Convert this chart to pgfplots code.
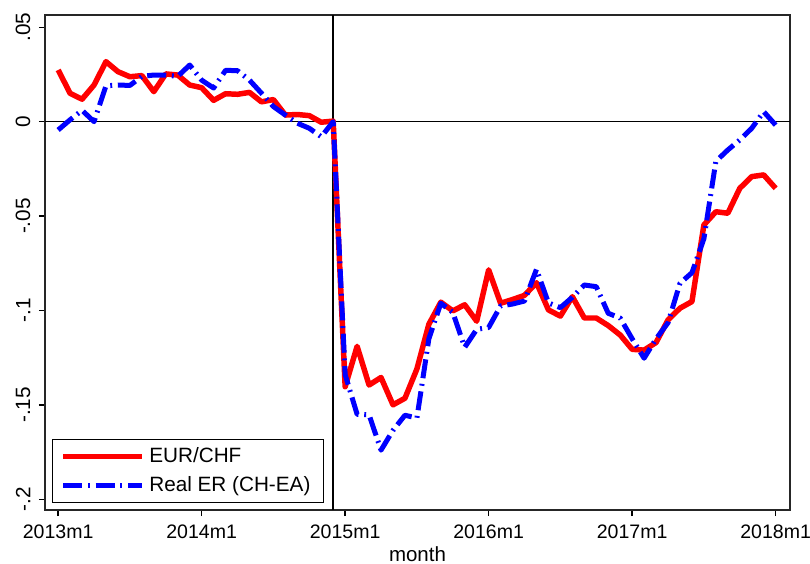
\documentclass[border=0pt]{standalone}
\usepackage{fontspec}
\setmainfont{Liberation Sans}
\usepackage{pgfplots}
\pgfplotsset{compat=1.18}

\definecolor{erred}{RGB}{255,0,0}
\definecolor{erblue}{RGB}{0,0,255}

\pgfplotstableread{
t   eur      real
0   0.0274  -0.0044
1   0.0150   0.0010
2   0.0119   0.0060
3   0.0194   0.0000
4   0.0318   0.0190
5   0.0265   0.0194
6   0.0238   0.0192
7   0.0244   0.0240
8   0.0159   0.0247
9   0.0253   0.0247
10  0.0247   0.0240
11  0.0194   0.0300
12  0.0180   0.0220
13  0.0113   0.0178
14  0.0148   0.0272
15  0.0145   0.0270
16  0.0155   0.0220
17  0.0105   0.0151
18  0.0117   0.0080
19  0.0035   0.0035
20  0.0038  -0.0008
21  0.0032  -0.0035
22 -0.0003  -0.0080
23  0.0003   0.0000
24 -0.1404  -0.1340
25 -0.1190  -0.1550
26 -0.1395  -0.1553
27 -0.1355  -0.1740
28 -0.1500  -0.1635
29 -0.1465  -0.1555
30 -0.1310  -0.1570
31 -0.1073  -0.1150
32 -0.0956  -0.0962
33 -0.1002  -0.1010
34 -0.0970  -0.1195
35 -0.1057  -0.1100
36 -0.0785  -0.1090
37 -0.0962  -0.0976
38 -0.0942  -0.0966
39 -0.0920  -0.0950
40 -0.0853  -0.0782
41 -0.0997  -0.0960
42 -0.1030  -0.0985
43 -0.0927  -0.0930
44 -0.1040  -0.0865
45 -0.1040  -0.0874
46 -0.1080  -0.1015
47 -0.1130  -0.1040
48 -0.1206  -0.1150
49 -0.1210  -0.1253
50 -0.1170  -0.1150
51 -0.1050  -0.1065
52 -0.0988  -0.0856
53 -0.0953  -0.0800
54 -0.0547  -0.0620
55 -0.0477  -0.0210
56 -0.0485  -0.0150
57 -0.0353  -0.0097
58 -0.0291  -0.0035
59 -0.0282   0.0053
60 -0.0353  -0.0018
}\erdata

\begin{document}
\begin{tikzpicture}
\begin{axis}[
    scale only axis,
    width=312.9pt, height=207.9pt,
    xmin=-1.1, xmax=61.2, ymin=-0.2057, ymax=0.0565,
    xtick={0,12,24,36,48,60},
    xticklabels={2013m1,2014m1,2015m1,2016m1,2017m1,2018m1},
    ytick={-0.2,-0.15,-0.1,-0.05,0,0.05},
    yticklabels={-.2,-.15,-.1,-.05,0,.05},
    /pgf/number format/assume math mode=true,
    tick pos=left, tick align=outside,
    major tick length=2.6pt,
    every tick/.style={black, line width=0.6pt},
    axis line style={black!85, line width=0.8pt},
    tick label style={font=\fontsize{8.2}{10}\selectfont},
    yticklabel style={rotate=90, anchor=south, font=\fontsize{8.7}{10}\selectfont},
    xlabel={month},
    label style={font=\fontsize{8.6}{10}\selectfont},
    xlabel style={at={(axis description cs:0.5,0)}, anchor=center, yshift=-18.6pt},
    legend style={at={(0.009,0.014)}, anchor=south west,
                  draw=black, line width=0.6pt, fill=white,
                  font=\fontsize{8.7}{10}\selectfont,
                  row sep=0.4pt, inner xsep=3.4pt, inner ysep=1.2pt,
                  nodes={inner sep=2pt}},
    legend cell align=left,
    legend image code/.code={\draw[#1] (0pt,0pt) -- (33pt,0pt);},
]
\addplot[black, line width=0.6pt, forget plot] coordinates {(-1.1,0) (61.2,0)};
\addplot[black, line width=0.6pt, forget plot] coordinates {(23,-0.2057) (23,0.0565)};
\addplot[erred, line width=2.3pt, line join=round] table[x=t, y=eur] {\erdata};
\addlegendentry{EUR/CHF}
\addplot[erblue, line width=2.1pt, line join=round,
         dash pattern=on 8pt off 2.4pt on 0.8pt off 2.4pt] table[x=t, y=real] {\erdata};
\addlegendentry{Real ER (CH-EA)\hspace{7.5pt}}
\end{axis}
\pgfresetboundingbox
\path (-18.9pt,-22.26pt) rectangle (321.3pt,214.2pt);
\end{tikzpicture}
\end{document}
